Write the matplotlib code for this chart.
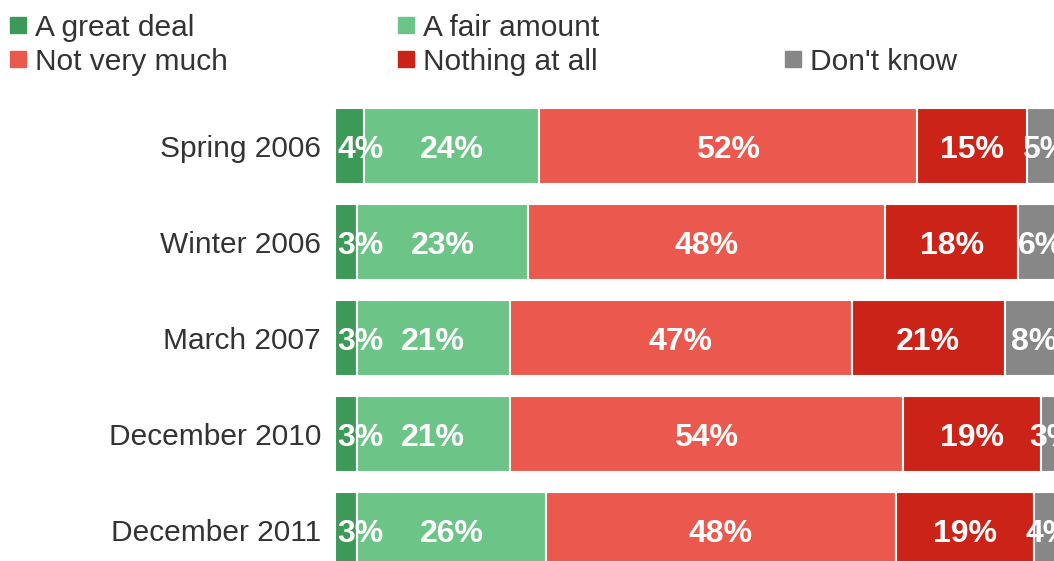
import numpy as np
import matplotlib
matplotlib.use("Agg")
import matplotlib.pyplot as plt
from matplotlib.patches import Rectangle

plt.rcParams["font.family"] = ["Liberation Sans", "DejaVu Sans"]

# Survey waves, top to bottom
periods = ["Spring 2006", "Winter 2006", "March 2007", "December 2010", "December 2011"]
responses = ["A great deal", "A fair amount", "Not very much", "Nothing at all", "Don't know"]
colors = ["#3c9957", "#6cc486", "#eb594e", "#cb2317", "#878787"]

# Percentages as labelled (rows: periods, cols: responses)
great_deal = [4, 3, 3, 3, 3]
fair_amount = [24, 23, 21, 21, 26]
not_very_much = [52, 48, 47, 54, 48]
nothing_at_all = [15, 18, 21, 19, 19]
dont_know = [5, 6, 8, 3, 4]

# legend slots (row, col)
legend_slots = [(0, 0), (0, 1), (1, 0), (1, 1), (1, 2)]

W, H = 1054, 561
fig = plt.figure(figsize=(W / 100, H / 100), dpi=100)
ax = fig.add_axes([335 / W, 1 - 578 / H, 728 / W, 480 / H])

vals = np.array([great_deal, fair_amount, not_very_much, nothing_at_all, dont_know], dtype=float).T
shares = vals / vals.sum(axis=1, keepdims=True) * 100

y = np.arange(len(periods))
left = np.zeros(len(periods))
for j, resp in enumerate(responses):
    ax.barh(y, shares[:, j], left=left, height=0.8, color=colors[j],
            edgecolor="white", linewidth=1.5)
    for i in range(len(periods)):
        cx = left[i] + shares[i, j] / 2
        txt = f"{int(vals[i, j])}%"
        if cx < 3.2:
            ax.text(0.3, y[i], txt, ha="left", va="center_baseline", color="white",
                    fontsize=23, fontweight="bold", clip_on=False)
        else:
            ax.text(cx, y[i], txt, ha="center", va="center_baseline", color="white",
                    fontsize=23, fontweight="bold", clip_on=False)
    left += shares[:, j]

ax.set_xlim(0, 100)
ax.set_ylim(4.5, -0.5)
ax.set_yticks(y)
ax.set_yticklabels(periods, fontsize=21.5, color="#333333", va="center_baseline")
ax.tick_params(axis="y", length=0, pad=10)
ax.xaxis.set_visible(False)
for s in ax.spines.values():
    s.set_visible(False)

# legend drawn by hand (two rows, three columns)
col_x = [10, 398, 785]
row_top = [17, 51]
for (r, c), resp, col in zip(legend_slots, responses, colors):
    fig.patches.append(Rectangle((col_x[c] / W, 1 - (row_top[r] + 16) / H), 16 / W, 16 / H,
                                 transform=fig.transFigure, color=col))
    fig.text((col_x[c] + 25) / W, 1 - (row_top[r] + 19) / H, resp, fontsize=21.5,
             color="#333333", ha="left", va="baseline")

fig.savefig("out.png", dpi=100)
